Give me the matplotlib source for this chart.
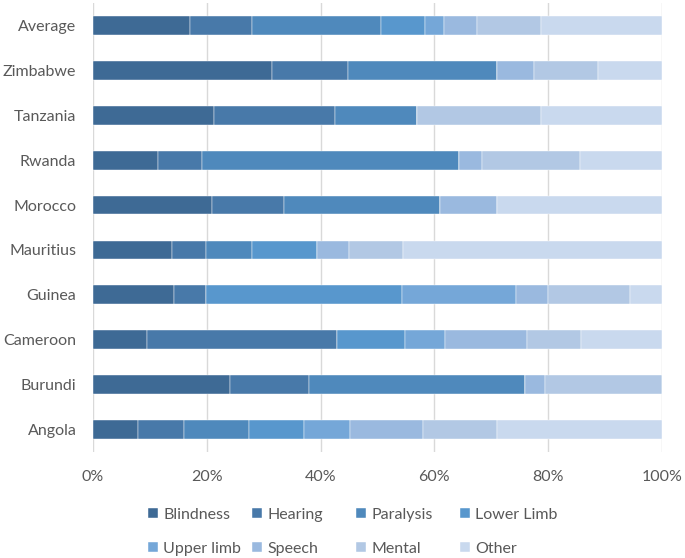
import matplotlib
matplotlib.use("Agg")
import matplotlib.pyplot as plt
import numpy as np

plt.rcParams['font.family'] = ['Lato', 'DejaVu Sans']

countries = ["Angola", "Burundi", "Cameroon", "Guinea", "Mauritius",
             "Morocco", "Rwanda", "Tanzania", "Zimbabwe", "Average"]
categories = ["Blindness", "Hearing", "Paralysis", "Lower Limb",
              "Upper limb", "Speech", "Mental", "Other"]

blindness  = [7.9, 24.0, 9.5, 14.2, 13.9, 20.9, 11.4, 21.2, 31.5, 17.0]
hearing    = [8.1, 13.9, 33.4, 5.7, 6.0, 12.6, 7.7, 21.3, 13.3, 10.9]
paralysis  = [11.4, 38.0, 0.0, 0.0, 8.0, 27.4, 45.3, 14.4, 26.2, 22.8]
lower_limb = [9.7, 0.0, 11.9, 34.4, 11.5, 0.0, 0.0, 0.0, 0.0, 7.6]
upper_limb = [8.1, 0.0, 7.1, 20.0, 0.0, 0.0, 0.0, 0.0, 0.0, 3.4]
speech     = [12.8, 3.5, 14.3, 5.6, 5.6, 10.1, 4.0, 0.0, 6.5, 5.7]
mental     = [13.0, 20.6, 9.5, 14.4, 9.5, 0.0, 17.2, 21.8, 11.2, 11.3]
other      = [29.0, 0.0, 14.3, 5.7, 45.5, 29.0, 14.4, 21.3, 11.3, 21.3]

series = [blindness, hearing, paralysis, lower_limb, upper_limb, speech, mental, other]
colors = ["#3e6a95", "#4879a9", "#4f89bc", "#5897cd", "#75a7d8", "#9ab9df", "#b2c8e4", "#c9d9ee"]

fig = plt.figure(figsize=(6.85, 5.58), dpi=100)
ax = fig.add_axes([93/685, 1 - 452/558, 569/685, 449/558])

y = np.arange(len(countries))
left = np.zeros(len(countries))
total = np.array([sum(s[i] for s in series) for i in range(len(countries))])
handles = []
for name, vals, col in zip(categories, series, colors):
    pct = np.array(vals, dtype=float) / total * 100
    b = ax.barh(y, pct, left=left, height=0.42, color=col, label=name,
                edgecolor='white', linewidth=0.3)
    handles.append(b)
    left += pct

ax.set_xlim(0, 100)
ax.set_ylim(-0.5, len(countries) - 0.5)
ax.set_yticks(y)
ax.set_yticklabels(countries)
ax.set_xticks([0, 20, 40, 60, 80, 100])
ax.set_xticklabels(["0%", "20%", "40%", "60%", "80%", "100%"])
ax.tick_params(axis='both', length=0, labelsize=11.5, colors='#595959')
ax.tick_params(axis='y', pad=12)
ax.tick_params(axis='x', pad=13)
for s in ax.spines.values():
    s.set_visible(False)
ax.grid(axis='x', color='#d9d9d9', linewidth=1)
ax.set_axisbelow(True)

col_x = [148, 252, 356, 460]
for j, xpx in enumerate(col_x):
    idx = [j, j + 4]
    leg = fig.legend([handles[i] for i in idx], [categories[i] for i in idx],
                     loc='center left', bbox_to_anchor=(xpx / 685, 1 - 532 / 558),
                     frameon=False, fontsize=11.5, handlelength=0.6, handleheight=0.6,
                     handletextpad=0.35, labelspacing=1.25, borderpad=0, borderaxespad=0)
    for t in leg.get_texts():
        t.set_color('#595959')

fig.savefig("out.png", dpi=100)
